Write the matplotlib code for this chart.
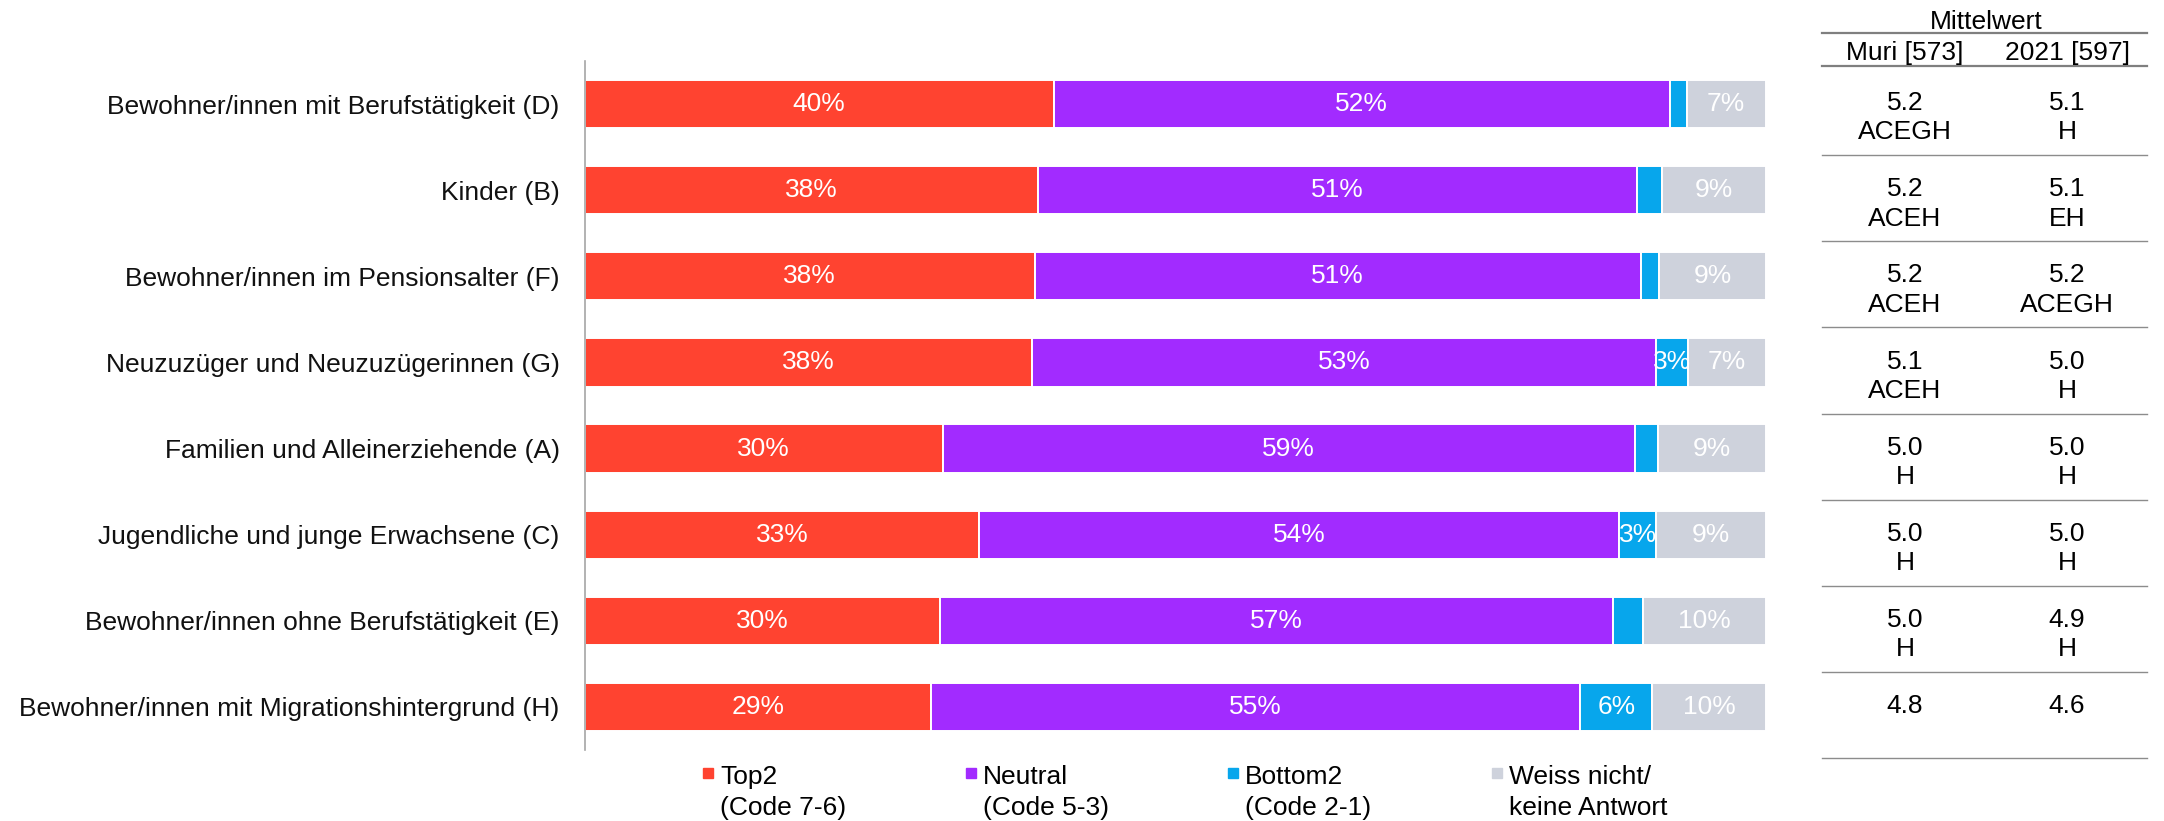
import numpy as np
import matplotlib.pyplot as plt
from matplotlib.patches import Rectangle

plt.rcParams['font.family'] = ['Liberation Sans', 'DejaVu Sans']

# groups, top to bottom
groups = ['Bewohner/innen mit Berufstätigkeit (D)', 'Kinder (B)',
          'Bewohner/innen im Pensionsalter (F)', 'Neuzuzüger und Neuzuzügerinnen (G)',
          'Familien und Alleinerziehende (A)', 'Jugendliche und junge Erwachsene (C)',
          'Bewohner/innen ohne Berufstätigkeit (E)', 'Bewohner/innen mit Migrationshintergrund (H)']

# shares in percent
top2 = [39.7, 38.4, 38.1, 37.9, 30.3, 33.4, 30.1, 29.3]
neutral = [52.2, 50.7, 51.3, 52.8, 58.6, 54.2, 57.0, 55.0]
bottom2 = [1.4, 2.1, 1.6, 2.7, 2.0, 3.1, 2.5, 6.1]
unknown = [6.7, 8.8, 9.0, 6.6, 9.1, 9.3, 10.4, 9.6]

# mean value table
table_title = 'Mittelwert'
col_heads = ['Muri [573]', '2021 [597]']
mean_muri = ['5.2', '5.2', '5.2', '5.1', '5.0', '5.0', '5.0', '4.8']
sig_muri = ['ACEGH', 'ACEH', 'ACEH', 'ACEH', 'H', 'H', 'H', '']
mean_2021 = ['5.1', '5.1', '5.2', '5.0', '5.0', '5.0', '4.9', '4.6']
sig_2021 = ['H', 'EH', 'ACEGH', 'H', 'H', 'H', 'H', '']

legend_labels = ['Top2\n(Code 7-6)', 'Neutral\n(Code 5-3)',
                 'Bottom2\n(Code 2-1)', 'Weiss nicht/\nkeine Antwort']
colors = ['#FF4330', '#A22BFF', '#07A6EC', '#CED2DC']

W, H = 2164, 821
fs = 19
fig = plt.figure(figsize=(W / 100, H / 100), dpi=100)

# bar chart
ax = fig.add_axes([584.7 / W, 1 - 750 / H, 1181 / W, 689 / H])
y = np.arange(len(groups))
left = np.zeros(len(groups))
for vals, col in zip([top2, neutral, bottom2, unknown], colors):
    vals = np.array(vals)
    ax.barh(y, vals, left=left, height=0.56, color=col, edgecolor='white', linewidth=1.4)
    for i, v in enumerate(vals):
        if round(v) >= 3:
            ax.text(left[i] + v / 2, i, f'{round(v):.0f}%', ha='center', va='center',
                    color='white', fontsize=fs)
    left += vals

ax.set_xlim(0, 100)
ax.set_ylim(len(groups) - 0.5, -0.5)
ax.set_yticks(y)
ax.set_yticklabels(groups, fontsize=fs, color='#111111')
ax.set_xticks([])
ax.tick_params(axis='y', length=0, pad=18)
for s in ['top', 'right', 'bottom']:
    ax.spines[s].set_visible(False)
ax.spines['left'].set_color('#a6a6a6')
ax.spines['left'].set_linewidth(1.2)

# mean value table on the right
tax = fig.add_axes([1822 / W, 1 - 750 / H, 325 / W, 689 / H])
tax.set_xlim(0, 1)
tax.set_ylim(len(groups) - 0.5, -0.5)
tax.axis('off')
cx = [0.255, 0.754]
tax.text(0.505, -0.953, table_title, ha='center', va='center', fontsize=fs)
for x, h in zip(cx, col_heads):
    tax.text(x, -0.593, h, ha='center', va='center', fontsize=fs)
for yy in [-0.826, -0.44]:
    tax.plot([0, 1], [yy, yy], color='#7f7f7f', lw=1.6, clip_on=False)
for i in range(len(groups)):
    tax.plot([0, 1], [i + 0.593] * 2, color='#8c8c8c', lw=1.0, clip_on=False)
    for x, m, s in zip(cx, [mean_muri[i], mean_2021[i]], [sig_muri[i], sig_2021[i]]):
        tax.text(x, i - 0.01, m, ha='center', va='center', fontsize=fs)
        tax.text(x, i + 0.33, s, ha='center', va='center', fontsize=fs)

# legend
sq_x = [703, 966, 1228, 1492]
for x, lab, col in zip(sq_x, legend_labels, colors):
    fig.patches.append(Rectangle((x / W, 1 - 778 / H), 10 / W, 10 / H,
                                 transform=fig.transFigure, color=col))
    for k, line in enumerate(lab.split('\n')):
        fig.text((x + 17) / W, 1 - (777 + 31 * k) / H, line, ha='left', va='center',
                 fontsize=fs)

fig.savefig('out.png', dpi=100)
